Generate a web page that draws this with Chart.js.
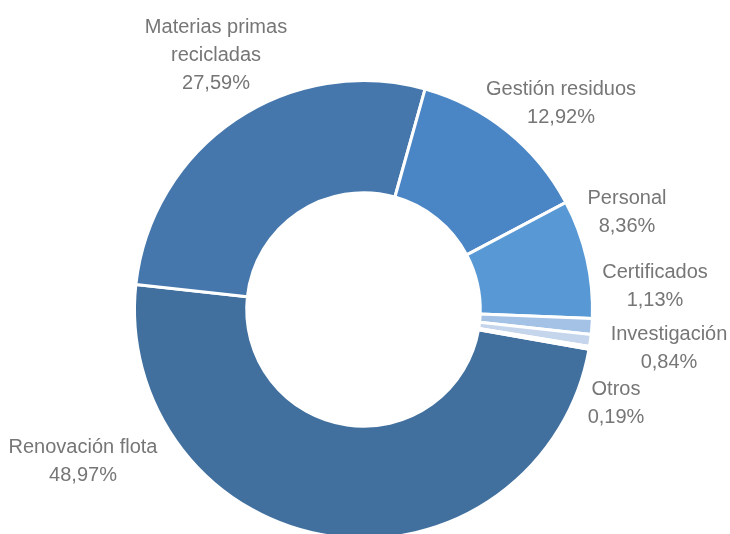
<!DOCTYPE html>
<html>
<head>
<meta charset="utf-8">
<script src="https://cdn.jsdelivr.net/npm/chart.js@4.4.0/dist/chart.umd.min.js"></script>
<style>
  html, body { margin: 0; padding: 0; background: #fff; overflow: hidden; }
  #wrap { width: 730px; height: 560px; }
</style>
</head>
<body>
<div id="wrap"><canvas id="donut" width="730" height="560"></canvas></div>
<script>
"use strict";

// datos
var categorias = ['Renovación flota', 'Materias primas recicladas', 'Gestión residuos', 'Personal', 'Certificados', 'Investigación', 'Otros'];
var porcentajes = [48.97, 27.59, 12.92, 8.36, 1.13, 0.84, 0.19];
var colores = ['#41709f', '#4677ac', '#4a85c5', '#5899d5', '#a3c2e6', '#c4d5ec', '#e0e8f3'];

// lineas de texto de cada etiqueta
var etiquetas = [
    ['Renovación flota'],
    ['Materias primas', 'recicladas'],
    ['Gestión residuos'],
    ['Personal'],
    ['Certificados'],
    ['Investigación'],
    ['Otros']
];
// posicion (centro x, linea base de la primera linea)
var posEtiquetas = [
    [83, 453],
    [216, 33],
    [561, 95],
    [627, 204],
    [655, 278],
    [669, 340],
    [616, 395]
];

var fmt = function (v) {
    return v.toFixed(2).replace('.', ',') + '%';
};

var etiquetasPlugin = {
    id: 'etiquetas',
    afterDraw: function (chart) {
        var ctx = chart.ctx;
        ctx.save();
        ctx.font = '20px "Liberation Sans", Arial, sans-serif';
        ctx.fillStyle = '#767676';
        ctx.textAlign = 'center';
        ctx.textBaseline = 'alphabetic';
        etiquetas.forEach(function (lineas, i) {
            var x = posEtiquetas[i][0], y = posEtiquetas[i][1];
            var todas = lineas.concat([fmt(porcentajes[i])]);
            todas.forEach(function (t, j) {
                ctx.fillText(t, x, y + j * 28);
            });
        });
        ctx.restore();
    }
};

var donut = new Chart(document.getElementById('donut'), {
    type: 'doughnut',
    data: {
        labels: categorias,
        datasets: [{
            data: porcentajes,
            backgroundColor: colores,
            borderColor: '#ffffff',
            borderWidth: 3,
            hoverOffset: 0
        }]
    },
    options: {
        responsive: false,
        animation: false,
        cutout: '51%',
        rotation: 100,
        layout: {
            padding: {
                top: 79,
                bottom: 20,
                left: 133,
                right: 136
            }
        },
        plugins: {
            legend: {
                display: false
            },
            tooltip: {
                enabled: false
            }
        }
    },
    plugins: [etiquetasPlugin]
});
</script>
</body>
</html>
